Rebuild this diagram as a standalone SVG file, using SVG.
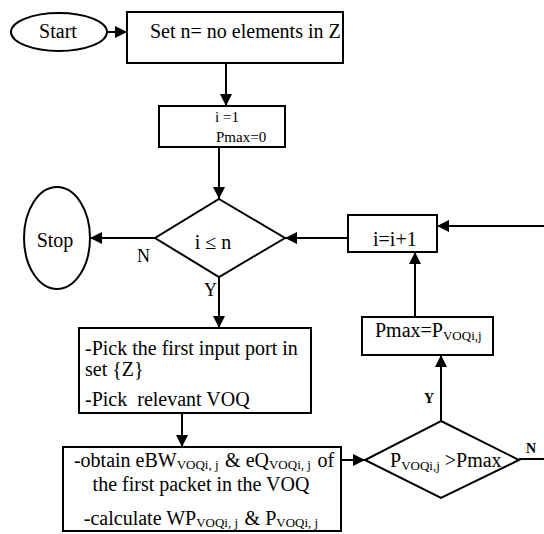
<svg xmlns="http://www.w3.org/2000/svg" width="544" height="534" viewBox="0 0 544 534">
<defs>
<marker id="arr" markerWidth="12" markerHeight="12" refX="12" refY="6" orient="auto" markerUnits="userSpaceOnUse">
<path d="M0,0 L12,6 L0,12 Z" fill="#000"/>
</marker>
<style>
.s{fill:#fff;stroke:#000;stroke-width:2}
.c line{stroke:#000;stroke-width:2}
.a{marker-end:url(#arr)}
text{font-family:'Liberation Serif','Times New Roman',serif;font-size:20px;fill:#000}
.sm{font-size:15px}
.sub{font-size:13px}
.lb{font-size:18px}
.b{font-size:14px;font-weight:bold}
</style>
</defs>
<rect width="544" height="534" fill="#fff"/>
<g class="c">
<line class="a" x1="107" y1="32" x2="127" y2="32"/>
<line class="a" x1="226" y1="63" x2="226" y2="106"/>
<line class="a" x1="219" y1="147" x2="219" y2="199"/>
<line class="a" x1="155" y1="238" x2="90" y2="238"/>
<line class="a" x1="219" y1="277" x2="219" y2="328"/>
<line class="a" x1="182" y1="413" x2="182" y2="447"/>
<line class="a" x1="341" y1="460" x2="365" y2="460"/>
<line class="a" x1="441" y1="421" x2="441" y2="355"/>
<line class="a" x1="415" y1="317" x2="415" y2="252"/>
<line class="a" x1="348" y1="238" x2="285" y2="238"/>
<line class="a" x1="546" y1="226" x2="437" y2="226"/>
<line x1="519" y1="459" x2="546" y2="459"/>
<text class="lb" x="137" y="262">N</text>
<text class="lb" x="204" y="296">Y</text>
<text class="b" x="424" y="403">Y</text>
<text class="b" x="526" y="453">N</text>
</g>
<g id="start">
<ellipse class="s" cx="59" cy="32" rx="48" ry="19"/>
<text x="58" y="38" text-anchor="middle">Start</text>
</g>
<g id="setn">
<rect class="s" x="127" y="12" width="216" height="51"/>
<text x="150" y="38">Set n= no elements in Z</text>
</g>
<g id="init">
<rect class="s" x="159" y="106" width="126" height="41"/>
<text class="sm" x="215" y="122">i =1</text>
<text class="sm" x="216" y="142">Pmax=0</text>
</g>
<g id="cond1">
<polygon class="s" points="219,199 285,238 219,277 155,238"/>
<text x="213" y="249" text-anchor="middle">i ≤ n</text>
</g>
<g id="stop">
<ellipse class="s" cx="57" cy="238" rx="33" ry="51"/>
<text x="55" y="247" text-anchor="middle">Stop</text>
</g>
<g id="pick">
<rect class="s" x="79" y="328" width="232" height="85"/>
<text x="85" y="355">-Pick the first input port in</text>
<text x="85" y="376">set {Z}</text>
<text x="85" y="406" xml:space="preserve">-Pick  relevant VOQ</text>
</g>
<g id="obtain">
<rect class="s" x="63" y="447" width="278" height="84"/>
<text x="204" y="467" text-anchor="middle">-obtain eBW<tspan class="sub" dy="2">VOQi, j</tspan><tspan dy="-2" dx="1.5"> &amp; eQ</tspan><tspan class="sub" dy="2">VOQi, j</tspan><tspan dy="-2" dx="1.5"> of</tspan></text>
<text x="201" y="491" text-anchor="middle">the first packet in the VOQ</text>
<text x="201" y="525" text-anchor="middle">-calculate WP<tspan class="sub" dy="2">VOQi, j</tspan><tspan dy="-2" dx="1.5"> &amp; P</tspan><tspan class="sub" dy="2">VOQi, j</tspan></text>
</g>
<g id="cond2">
<polygon class="s" points="441,421 519,460 441,498 365,460"/>
<text x="390" y="467">P<tspan class="sub" dy="3">VOQi,j</tspan><tspan dy="-3"> &gt;Pmax</tspan></text>
</g>
<g id="setmax">
<rect class="s" x="362" y="317" width="131" height="38"/>
<text x="375" y="337">Pmax=P<tspan class="sub" dy="3">VOQi,j</tspan></text>
</g>
<g id="incr">
<rect class="s" x="348" y="215" width="89" height="37"/>
<text x="373" y="246">i=i+1</text>
</g>
</svg>
